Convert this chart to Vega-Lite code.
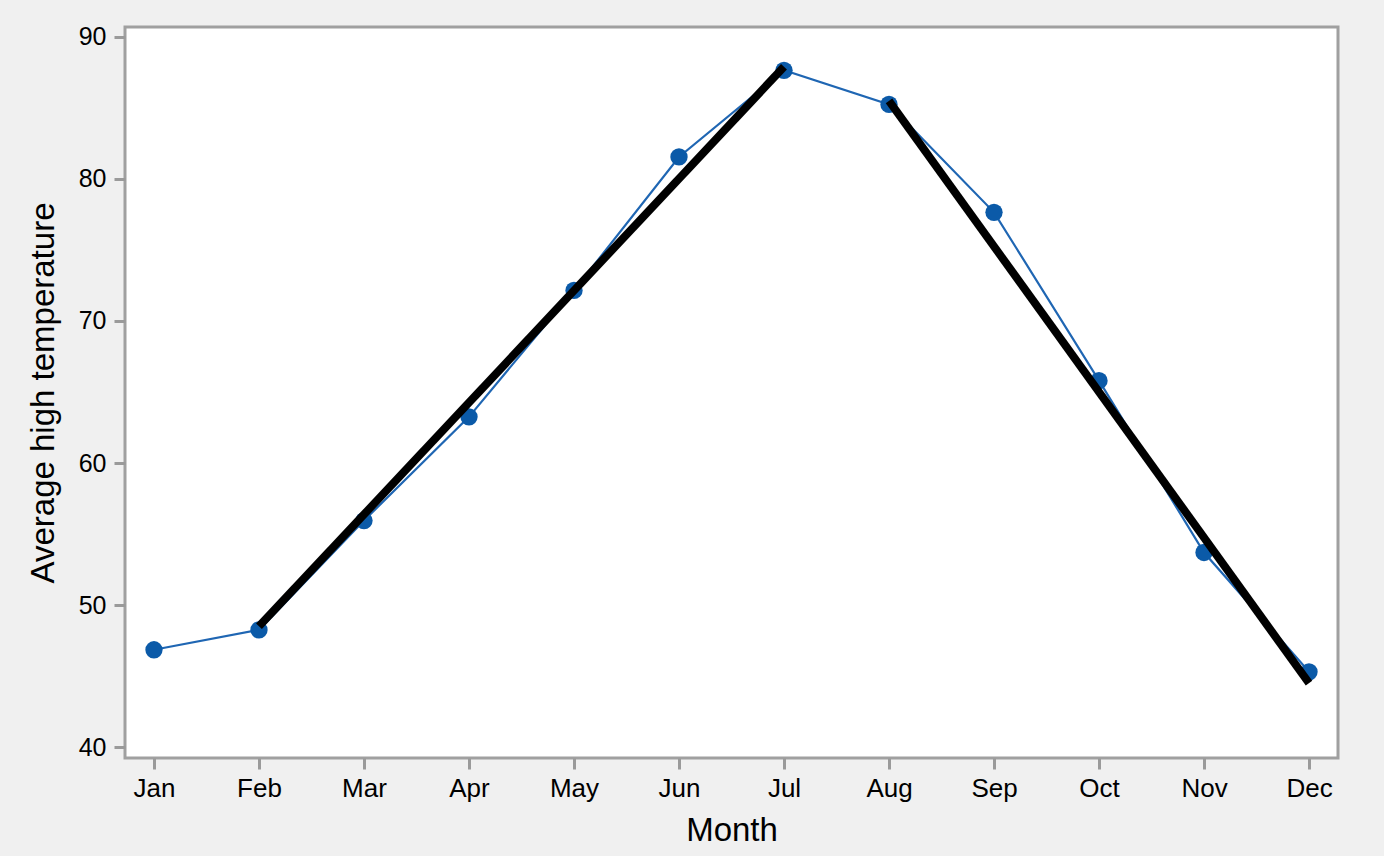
{
  "$schema": "https://vega.github.io/schema/vega-lite/v6.json",
  "autosize": {"type": "none"},
  "width": 1213,
  "height": 731,
  "padding": {"left": 125, "top": 27, "right": 46, "bottom": 98},
  "background": "#f0f0f0",
  "config": {
    "font": "Liberation Sans",
    "view": {"fill": "#ffffff", "stroke": "#a0a0a0", "strokeWidth": 3},
    "axis": {
      "domain": false,
      "grid": false,
      "tickColor": "#9a9a9a",
      "tickWidth": 3,
      "tickSize": 11,
      "labelFont": "Liberation Sans",
      "labelColor": "#000000",
      "titleFont": "Liberation Sans",
      "titleFontSize": 33,
      "titleFontWeight": "normal",
      "titleColor": "#000000"
    }
  },
  "datasets": {
    "temps": [
      {"month": "Jan", "temp": 46.85},
      {"month": "Feb", "temp": 48.25},
      {"month": "Mar", "temp": 55.95},
      {"month": "Apr", "temp": 63.25},
      {"month": "May", "temp": 72.15},
      {"month": "Jun", "temp": 81.55},
      {"month": "Jul", "temp": 87.65},
      {"month": "Aug", "temp": 85.25},
      {"month": "Sep", "temp": 77.65},
      {"month": "Oct", "temp": 65.8},
      {"month": "Nov", "temp": 53.7},
      {"month": "Dec", "temp": 45.3}
    ],
    "trend": [
      {"segment": "rise", "month": "Feb", "temp": 48.5},
      {"segment": "rise", "month": "Jul", "temp": 87.9},
      {"segment": "fall", "month": "Aug", "temp": 85.5},
      {"segment": "fall", "month": "Dec", "temp": 44.5}
    ]
  },
  "encoding": {
    "x": {
      "field": "month",
      "type": "nominal",
      "sort": ["Jan", "Feb", "Mar", "Apr", "May", "Jun", "Jul", "Aug", "Sep", "Oct", "Nov", "Dec"],
      "scale": {"type": "point", "padding": 0.276},
      "axis": {"title": "Month", "labelAngle": 0, "labelFontSize": 26, "labelPadding": 6, "titlePadding": 13}
    },
    "y": {
      "field": "temp",
      "type": "quantitative",
      "scale": {"domain": [39.23, 90.7], "nice": false, "zero": false},
      "axis": {"title": "Average high temperature", "values": [40, 50, 60, 70, 80, 90], "labelFontSize": 25, "labelPadding": 8, "titlePadding": 18}
    }
  },
  "layer": [
    {
      "data": {"name": "temps"},
      "mark": {"type": "line", "color": "#1f66b3", "strokeWidth": 2.2}
    },
    {
      "data": {"name": "temps"},
      "mark": {"type": "point", "filled": true, "color": "#0b5aa8", "opacity": 1, "size": 300}
    },
    {
      "data": {"name": "trend"},
      "mark": {"type": "line", "color": "#000000", "strokeWidth": 8, "strokeCap": "butt"},
      "encoding": {"detail": {"field": "segment", "type": "nominal"}}
    }
  ]
}
